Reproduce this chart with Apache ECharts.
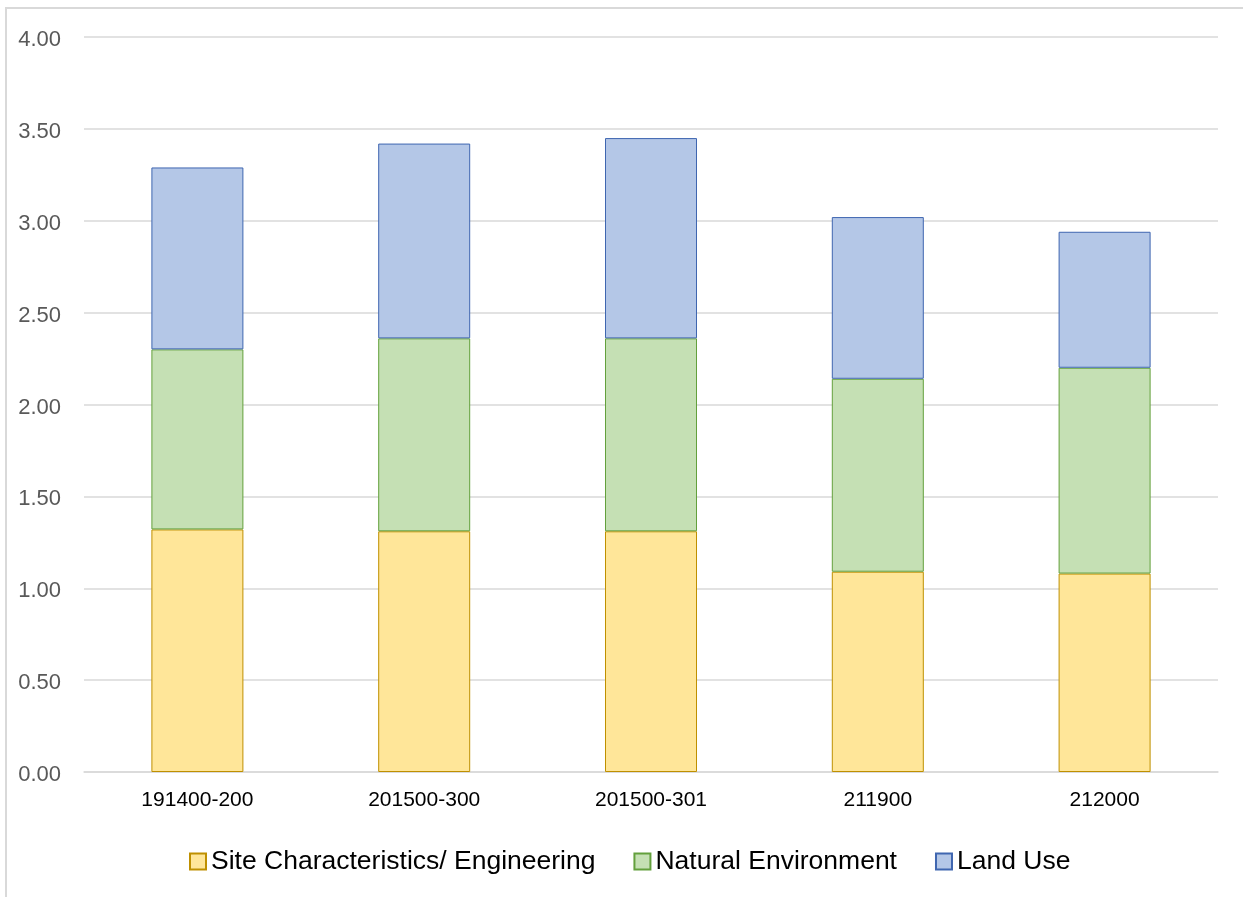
<!DOCTYPE html>
<html>
<head>
<meta charset="utf-8">
<script src="https://cdn.jsdelivr.net/npm/echarts@6/dist/echarts.min.js"></script>
<style>
  html, body { margin: 0; padding: 0; background: #fff; }
  #chart { width: 1243px; height: 897px; }
</style>
</head>
<body>
<div id="chart"></div>
<script>
// chart data
var categories = ["191400-200", "201500-300", "201500-301", "211900", "212000"];
var siteEngineering = [1.32, 1.31, 1.31, 1.09, 1.08];
var naturalEnvironment = [0.98, 1.05, 1.05, 1.05, 1.12];
var landUse = [0.99, 1.06, 1.09, 0.88, 0.74];

var fontFamily = "Liberation Sans";

var chart = echarts.init(document.getElementById("chart"));

function barSeries(name, data, fill, border) {
  return {
    name: name,
    type: "bar",
    stack: "total",
    barWidth: 92,
    data: data,
    itemStyle: {
      color: fill,
      borderColor: border,
      borderWidth: 1
    },
    animation: false
  };
}

chart.setOption({
  backgroundColor: "#fff",
  textStyle: { fontFamily: fontFamily },
  graphic: [
    {
      type: "polyline",
      shape: { points: [[6, 897], [6, 8], [1243, 8]] },
      style: { stroke: "#d9d9d9", lineWidth: 2, fill: null }
    }
  ],
  legend: {
    left: 184,
    top: 843,
    itemWidth: 16,
    itemHeight: 16,
    itemGap: 38,
    textStyle: { fontSize: 26.5, color: "#000", fontFamily: fontFamily },
    data: [
      { name: "Site Characteristics/ Engineering", icon: "rect" },
      { name: "Natural Environment", icon: "rect" },
      { name: "Land Use", icon: "rect" }
    ]
  },
  grid: {
    left: 84,
    right: 25,
    top: 37,
    bottom: 125,
    containLabel: false
  },
  xAxis: {
    type: "category",
    data: categories,
    axisLine: { show: true, lineStyle: { color: "#d9d9d9", width: 1.5 } },
    axisTick: { show: false },
    axisLabel: { fontSize: 21, color: "#000", margin: 18, fontFamily: fontFamily }
  },
  yAxis: {
    type: "value",
    min: 0,
    max: 4,
    interval: 0.5,
    axisLine: { show: false },
    axisTick: { show: false },
    splitLine: { lineStyle: { color: "#d9d9d9", width: 1.5 } },
    axisLabel: {
      margin: 23,
      formatter: function (v) { return "{v|" + v.toFixed(2) + "}"; },
      rich: {
        v: {
          fontSize: 22,
          color: "#595959",
          fontFamily: fontFamily,
          padding: [6, 0, 0, 0]
        }
      }
    }
  },
  series: [
    barSeries("Site Characteristics/ Engineering", siteEngineering, "#FFE699", "#BF9000"),
    barSeries("Natural Environment", naturalEnvironment, "#C5E0B4", "#63A03C"),
    barSeries("Land Use", landUse, "#B4C7E7", "#3F66B0")
  ]
});
</script>
</body>
</html>
